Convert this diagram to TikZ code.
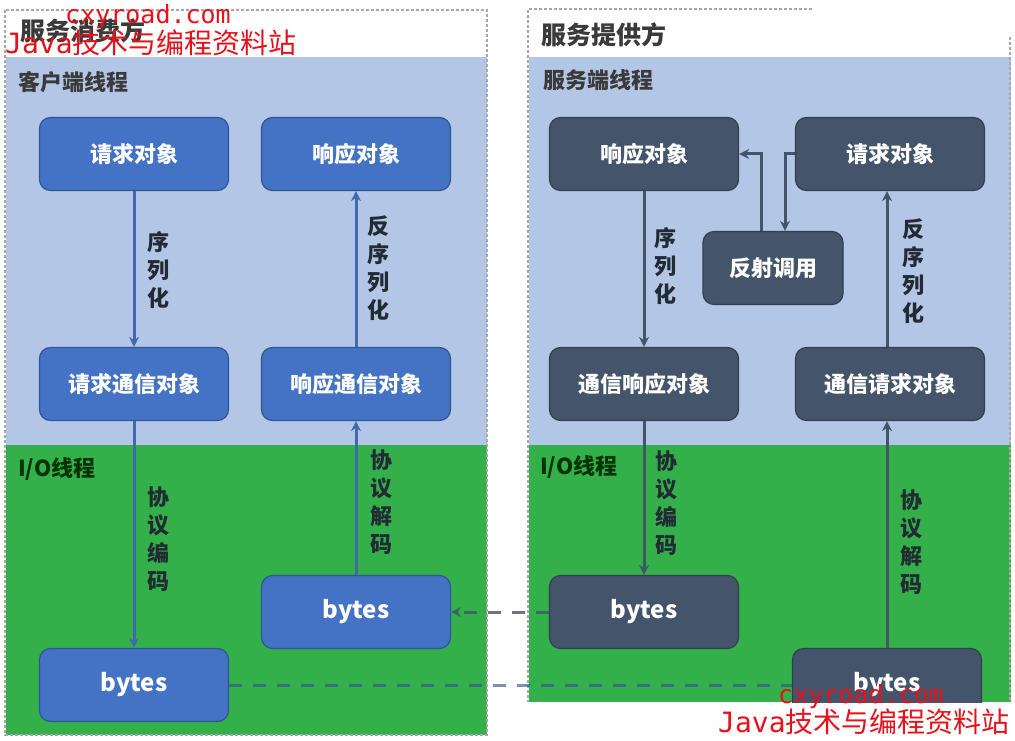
\documentclass[tikz,border=0pt]{standalone}
\usepackage{fontspec}
\setmainfont{Noto Sans CJK SC}
\newfontfamily\wmcjk{Noto Sans CJK SC}
\newfontfamily\wmmono{DejaVu Sans Mono}
\usetikzlibrary{arrows.meta,calc}
\definecolor{lightbg}{HTML}{B4C6E6}
\definecolor{greenbg}{HTML}{33B04A}
\definecolor{boxblue}{HTML}{4472C4}
\definecolor{edgeblue}{HTML}{2F5597}
\definecolor{boxdark}{HTML}{44546A}
\definecolor{edgedark}{HTML}{333F50}
\definecolor{arrblue}{HTML}{4169B0}
\definecolor{titlegray}{HTML}{3A3A3A}
\definecolor{labelink}{HTML}{222A33}
\definecolor{wmred}{HTML}{E8101A}
\definecolor{paneledge}{HTML}{A8A8A8}
\tikzset{
  boxbase/.style={rounded corners=11pt, line width=1.2pt, text=white,
    minimum width=189pt, minimum height=73pt, inner sep=0pt,
    font=\fontsize{22}{26}\selectfont\bfseries},
  bluenode/.style={boxbase, fill=boxblue, draw=edgeblue},
  darknode/.style={boxbase, fill=boxdark, draw=edgedark},
  bytestext/.style={font=\fontsize{24}{28}\selectfont\bfseries},
  bluearr/.style={draw=arrblue, line width=3pt, -{Stealth[length=10pt,width=10pt]}},
  darkarr/.style={draw=boxdark, line width=3pt, -{Stealth[length=10pt,width=10pt]}},
  vlabel/.style={text=labelink, align=center, inner sep=0pt,
    font=\fontsize{22}{28}\selectfont\bfseries},
  paneltitle/.style={text=titlegray, anchor=west, inner sep=0pt,
    font=\fontsize{25}{28}\selectfont\bfseries},
  threadtitle/.style={text=titlegray, anchor=west, inner sep=0pt,
    font=\fontsize{22}{26}\selectfont\bfseries},
  iotitle/.style={text=black!80!green, anchor=west, inner sep=0pt,
    font=\fontsize{22}{26}\selectfont\bfseries},
  panelborder/.style={draw=paneledge, line width=1.3pt, dash pattern=on 3pt off 2pt},
  linkdash/.style={line width=3pt, dash pattern=on 13pt off 11pt},
  wmtext/.style={text=wmred, inner sep=0pt, anchor=west}
}
\begin{document}
\begin{tikzpicture}[x=1pt,y=-1pt]
\useasboundingbox (0,0) rectangle (1015,741);
\fill[white] (0,0) rectangle (1015,741);
% ---- left panel ----
\fill[lightbg] (6,57) rectangle (487,445);
\fill[greenbg] (6,445) rectangle (487,735);
\draw[panelborder] (5,10) rectangle (487,735);
% ---- right panel ----
\fill[lightbg] (529,57) rectangle (1011,445);
\fill[greenbg] (529,445) rectangle (1011,702);
\draw[panelborder] (812,9) -- (528,9) -- (528,702);
\draw[panelborder] (1010,37) -- (1010,702);
% ---- titles ----
\node[paneltitle] (tcons) at (20,31) {服务消费方};
\node[paneltitle] (tprov) at (541,35) {服务提供方};
\node[threadtitle] (tcli) at (18,82) {客户端线程};
\node[threadtitle] (tsrv) at (543,80) {服务端线程};
\node[iotitle] (tio1) at (18,469) {I/O线程};
\node[iotitle] (tio2) at (540,467) {I/O线程};
% ---- left nodes ----
\node[bluenode] (lreq) at (134,154) {请求对象};
\node[bluenode] (lresp) at (356,154) {响应对象};
\node[bluenode] (lreqc) at (134,384) {请求通信对象};
\node[bluenode] (lrespc) at (356,384) {响应通信对象};
\node[bluenode, bytestext] (lb2) at (356,612) {bytes};
\node[bluenode, bytestext] (lb1) at (134,685) {bytes};
% ---- right nodes ----
\node[darknode] (rresp) at (644,154) {响应对象};
\node[darknode] (rreq) at (890,154) {请求对象};
\node[darknode, minimum width=140pt] (rref) at (773,268) {反射调用};
\node[darknode] (rrespc) at (644,384) {通信响应对象};
\node[darknode] (rreqc) at (890,384) {通信请求对象};
\node[darknode, bytestext] (rb1) at (644,612) {bytes};
\begin{scope}
\clip (529,0) rectangle (1011,702);
\node[darknode, bytestext] (rb2) at (887,685) {bytes};
\end{scope}
% ---- left arrows ----
\draw[bluearr] (lreq.south) -- (lreqc.north);
\draw[bluearr] (lreqc.south) -- (lb1.north);
\draw[bluearr] (lb2.north) -- (lrespc.south);
\draw[bluearr] (lrespc.north) -- (lresp.south);
% ---- right arrows ----
\draw[darkarr] (rresp.south) -- (rrespc.north);
\draw[darkarr] (rrespc.south) -- (rb1.north);
\draw[darkarr] (rb2.north) -- ($(rreqc.south)+(-3,0)$);
\draw[darkarr] ($(rreqc.north)+(-3,0)$) -- ($(rreq.south)+(-3,0)$);
\draw[darkarr] (rreq.west) -| ($(rref.north)+(12,0)$);
\draw[darkarr] ($(rref.north)+(-12,0)$) |- (rresp.east);
% ---- dashed links ----
\draw[linkdash, draw=boxdark, opacity=0.8, -{Stealth[length=10pt,width=10pt]}] (rb1.west) -- (lb2.east);
\draw[linkdash, draw=edgeblue!80!boxdark, opacity=0.65] (lb1.east) -- (rb2.west);
% ---- vertical labels ----
\node[vlabel] (l1) at (158,270) {序\\列\\化};
\node[vlabel] (l2) at (378,268) {反\\序\\列\\化};
\node[vlabel] (l3) at (158,539) {协\\议\\编\\码};
\node[vlabel] (l4) at (381,502) {协\\议\\解\\码};
\node[vlabel] (r1) at (665,266) {序\\列\\化};
\node[vlabel] (r2) at (913,271) {反\\序\\列\\化};
\node[vlabel] (r3) at (666,503) {协\\议\\编\\码};
\node[vlabel] (r4) at (911,542) {协\\议\\解\\码};
% ---- watermarks ----
\node[wmtext, font=\wmmono\fontsize{25}{28}\selectfont] (wm1) at (65,17) {cxyroad.com};
\node[wmtext, font=\wmcjk\fontsize{28}{30}\selectfont] (wm2) at (5,43) {{\wmmono Java}技术与编程资料站};
\node[wmtext, font=\wmmono\fontsize{25}{28}\selectfont] (wm3) at (778,697) {cxyroad.com};
\node[wmtext, font=\wmcjk\fontsize{28}{30}\selectfont] (wm4) at (718,722) {{\wmmono Java}技术与编程资料站};
\end{tikzpicture}
\end{document}
